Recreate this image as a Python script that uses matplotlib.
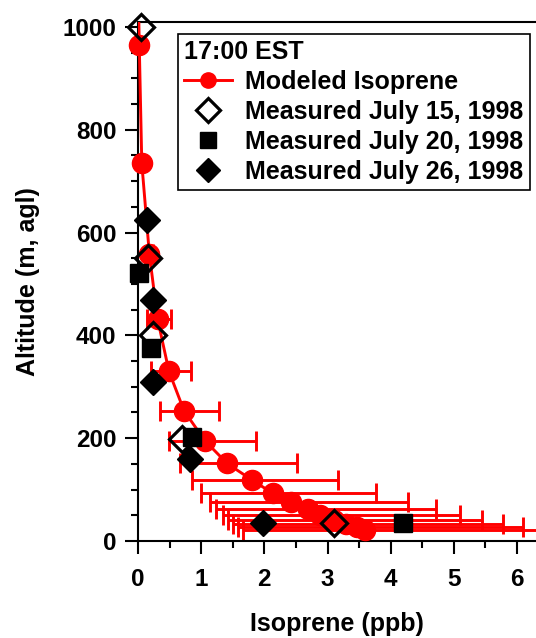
import matplotlib

matplotlib.use("Agg")
import matplotlib.pyplot as plt
import numpy as np
from matplotlib.lines import Line2D
from matplotlib.ticker import MultipleLocator

plt.rcParams["font.family"] = ["Liberation Sans", "DejaVu Sans"]
plt.rcParams["font.weight"] = "bold"

# modeled isoprene profile (ppb vs altitude, m agl); first point only carries the line to the top
model_alt = [1100, 965, 735, 558, 432, 330, 253, 195, 151, 119, 93, 75, 62, 50, 41, 34, 28, 22]
model_ppb = [0.0, 0.02, 0.06, 0.18, 0.31, 0.49, 0.73, 1.06, 1.41, 1.80, 2.13, 2.42, 2.69, 2.88, 3.10, 3.30, 3.46, 3.59]
model_lo = [0.0, 0.02, 0.06, 0.14, 0.14, 0.21, 0.35, 0.49, 0.66, 0.85, 1.00, 1.14, 1.24, 1.35, 1.43, 1.51, 1.58, 1.66]
model_hi = [0.0, 0.02, 0.06, 0.24, 0.52, 0.84, 1.28, 1.86, 2.51, 3.17, 3.76, 4.28, 4.71, 5.09, 5.44, 5.77, 6.09, 6.50]

# measured profiles
jul15_ppb = [0.04, 0.16, 0.24, 0.69, 3.10]
jul15_alt = [1000, 550, 400, 199, 35]
jul20_ppb = [0.01, 0.20, 0.85, 4.20]
jul20_alt = [521, 375, 203, 35]
jul26_ppb = [0.15, 0.24, 0.24, 0.83, 1.98]
jul26_alt = [624, 469, 310, 159, 35]

x = np.array(model_ppb)
xerr = [x - np.array(model_lo), np.array(model_hi) - x]

fig = plt.figure(figsize=(5.36, 6.38), dpi=100)
ax = fig.add_axes([138 / 536, 97 / 638, 398 / 536, 519 / 638])

ax.errorbar(model_ppb[1:], model_alt[1:], xerr=[e[1:] for e in xerr], fmt="none",
            ecolor="red", elinewidth=2.1, capsize=7.5, capthick=2.1, zorder=2)
ax.plot(model_ppb, model_alt, color="red", lw=2.1, zorder=3)
ax.plot(model_ppb[1:], model_alt[1:], "o", color="red", ms=14.5, mec="red",
        zorder=3, clip_on=False)

ax.plot(jul15_ppb, jul15_alt, "D", ms=13.5, mfc="none", mec="black", mew=2.3,
        zorder=5, clip_on=False)
ax.plot(jul20_ppb, jul20_alt, "s", ms=13, color="black", zorder=4, clip_on=False)
ax.plot(jul26_ppb, jul26_alt, "D", ms=13.5, color="black", zorder=4, clip_on=False)

ax.set_xlim(0, 6.30)
ax.set_ylim(0, 1009.7)
ax.xaxis.set_major_locator(MultipleLocator(1))
ax.xaxis.set_minor_locator(MultipleLocator(0.5))
ax.yaxis.set_major_locator(MultipleLocator(200))
ax.yaxis.set_minor_locator(MultipleLocator(50))
ax.tick_params(which="both", direction="out", width=1.5, labelsize=17.5)
ax.tick_params(which="major", length=9.5)
ax.tick_params(which="minor", length=5)
ax.tick_params(axis="x", pad=10)
ax.tick_params(axis="y", pad=6)
for side in ("left", "bottom", "top"):
    ax.spines[side].set_linewidth(1.5)
ax.spines["right"].set_visible(False)

ax.set_xlabel("Isoprene (ppb)", fontsize=18, fontweight="bold", labelpad=15)
ax.set_ylabel("Altitude (m, agl)", fontsize=18, fontweight="bold", labelpad=16)

handles = [
    Line2D([], [], color="red", lw=2.1, marker="o", ms=11),
    Line2D([], [], ls="none", marker="D", ms=12.5, mfc="none", mec="black", mew=2.3),
    Line2D([], [], ls="none", marker="s", ms=11, color="black"),
    Line2D([], [], ls="none", marker="D", ms=12.5, color="black"),
]
labels = ["Modeled Isoprene", "Measured July 15, 1998",
          "Measured July 20, 1998", "Measured July 26, 1998"]
leg = ax.legend(handles, labels, title="17:00 EST", loc="upper left",
                bbox_to_anchor=(0.1005, 0.977), borderaxespad=0, fancybox=False,
                framealpha=1, edgecolor="black", fontsize=18, title_fontsize=18,
                handlelength=1.9, handletextpad=0.55, labelspacing=0.24,
                borderpad=0.25, alignment="left")
leg.get_frame().set_linewidth(1.2)
leg.get_title().set_fontweight("bold")

fig.savefig("out.png", dpi=100)
